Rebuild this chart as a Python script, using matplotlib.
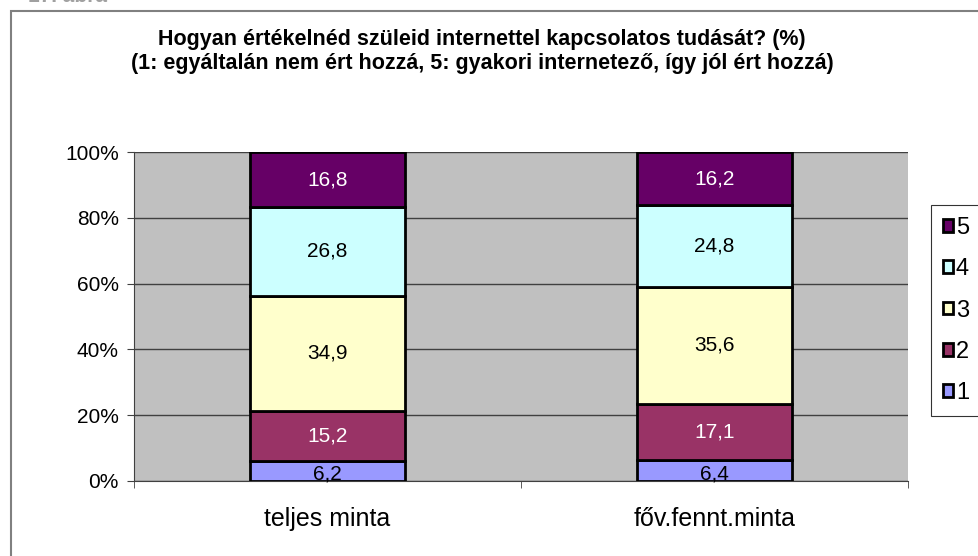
import matplotlib.pyplot as plt
import numpy as np
from matplotlib.patches import Rectangle

plt.rcParams['font.family'] = ['Liberation Sans', 'DejaVu Sans']

# data
categories = ['teljes minta', 'főv.fennt.minta']
series_names = ['1', '2', '3', '4', '5']
values = {
    '1': [6.2, 6.4],
    '2': [15.2, 17.1],
    '3': [34.9, 35.6],
    '4': [26.8, 24.8],
    '5': [16.8, 16.2],
}
colors = {'1': '#9999FF', '2': '#993366', '3': '#FFFFCC', '4': '#CCFFFF', '5': '#660066'}
text_colors = {'1': 'black', '2': 'white', '3': 'black', '4': 'black', '5': 'white'}
yticks = [0, 20, 40, 60, 80, 100]
title_1 = 'Hogyan értékelnéd szüleid internettel kapcsolatos tudását? (%)'
title_2 = '(1: egyáltalán nem ért hozzá, 5: gyakori internetező, így jól ért hozzá)'

W, H = 979, 556
fig = plt.figure(figsize=(W / 100, H / 100), dpi=100)
fig.patch.set_facecolor('white')

# outer chart frame (cut off at right and bottom)
fig.patches.append(Rectangle((11 / W, -0.1), 1.2, (H - 11) / H + 0.1,
                             transform=fig.transFigure, fill=False,
                             edgecolor='#808080', linewidth=1.5, zorder=0))
fig.text(28 / W, 1 + 4 / H, '17. ábra', fontsize=15, fontweight='bold',
         color='#A0A0A0', ha='left', va='center')

ax = fig.add_axes([134 / W, 1 - 481 / H, (908 - 134) / W, (481 - 152) / H])
ax.set_facecolor('#C0C0C0')

x = np.arange(len(categories))
totals = np.sum([values[s] for s in series_names], axis=0)
bottom = np.zeros(len(categories))
for s in series_names:
    v = np.array(values[s])
    pct = v / totals * 100
    ax.bar(x, pct, width=0.4, bottom=bottom, color=colors[s],
           edgecolor='black', linewidth=2, label=s, zorder=3)
    for xi, b, p, raw in zip(x, bottom, pct, v):
        # small segments: label sits a bit low, like the original
        yy = b + p / 2 - (1 if p < 10 else 0)
        ax.text(xi, yy, f'{raw:.1f}'.replace('.', ','), ha='center',
                va='center', fontsize=15, color=text_colors[s], zorder=4)
    bottom += pct

ax.set_xlim(-0.5, len(categories) - 0.5)
ax.set_ylim(0, 100)
ax.set_yticks(yticks)
ax.set_yticklabels([f'{t}%' for t in yticks], fontsize=15)
ax.set_xticks(x)
ax.set_xticklabels(categories, fontsize=18)
ax.tick_params(axis='x', which='major', length=0, pad=19)
ax.set_xticks([-0.5, 0.5, 1.5], minor=True)
ax.tick_params(axis='x', which='minor', length=5, direction='out', color='#404040')
ax.tick_params(axis='y', length=5, direction='out', color='#404040', pad=6)
ax.grid(axis='y', color='#404040', linewidth=1, zorder=1)
for side in ['top', 'right']:
    ax.spines[side].set_visible(False)
ax.spines['left'].set_color('#404040')
ax.spines['bottom'].set_color('#404040')

fig.text(482 / W, 1 - 40 / H, title_1, ha='center', va='center', fontsize=15.5,
         fontweight='bold')
fig.text(482 / W, 1 - 64 / H, title_2, ha='center', va='center', fontsize=15.5,
         fontweight='bold')

handles, labels = ax.get_legend_handles_labels()
leg = fig.legend(handles[::-1], labels[::-1], loc='upper left',
                 bbox_to_anchor=(931 / W, 1 - 205 / H), fontsize=17,
                 frameon=True, fancybox=False, edgecolor='black',
                 handlelength=0.45, handleheight=0.45, handletextpad=0.1,
                 labelspacing=0.82, borderpad=0.5, borderaxespad=0)
leg.get_frame().set_linewidth(0.8)

fig.savefig('out.png', dpi=100)
